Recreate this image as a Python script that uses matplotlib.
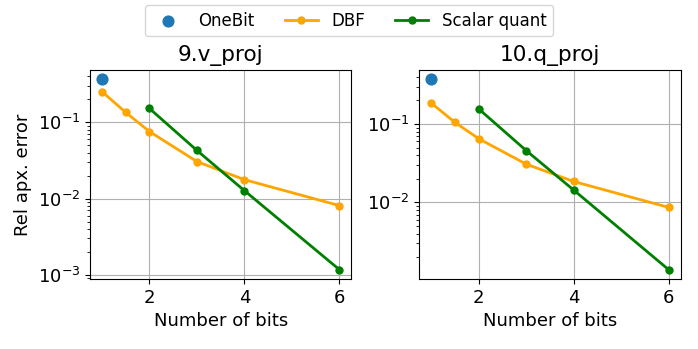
import numpy as np
import matplotlib
matplotlib.use("Agg")
import matplotlib.pyplot as plt

plt.rcParams['font.size'] = 13

# data
layerNames = ['9.v_proj', '10.q_proj']
oneBitBits = [1]
oneBitErr = [[0.366], [0.371]]
dbfBits = [1, 1.5, 2, 3, 4, 6]
dbfErr = [[0.253, 0.135, 0.0757, 0.0306, 0.0177, 0.0081],
          [0.185, 0.105, 0.065, 0.0308, 0.0185, 0.00865]]
sqBits = [2, 3, 4, 6]
sqErr = [[0.152, 0.0428, 0.0127, 0.00117],
         [0.156, 0.0459, 0.0144, 0.00139]]

fig, axes = plt.subplots(1, 2, figsize=(6.98, 3.49), dpi=100)
fig.subplots_adjust(left=0.129, right=0.975, bottom=0.2, top=0.8, wspace=0.26)

for i, ax in enumerate(axes):
    ax.scatter(oneBitBits, oneBitErr[i], s=60, color='tab:blue', label='OneBit', zorder=3)
    ax.plot(dbfBits, dbfErr[i], color='orange', marker='o', markersize=5, linewidth=2, label='DBF')
    ax.plot(sqBits, sqErr[i], color='green', marker='o', markersize=5, linewidth=2, label='Scalar quant')
    ax.set_yscale('log')
    ax.set_title(layerNames[i])
    ax.set_xlabel('Number of bits')
    ax.grid(True)
axes[0].set_ylabel('Rel apx. error')

handles, labels = axes[0].get_legend_handles_labels()
fig.legend(handles, labels, loc='upper center', ncol=3, bbox_to_anchor=(0.5, 1.01),
           fontsize=12, columnspacing=1.8)

plt.savefig('out.png')
